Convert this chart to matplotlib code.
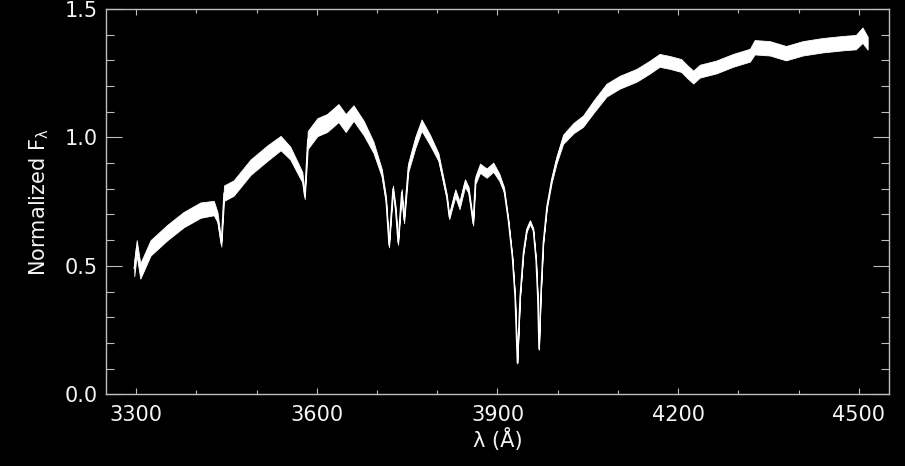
import numpy as np
import matplotlib
matplotlib.use("Agg")
import matplotlib.pyplot as plt
from matplotlib.ticker import MultipleLocator

# Spectrum: wavelength (Angstrom) and normalized flux
wave = [3297, 3301, 3307, 3324, 3352, 3379, 3407, 3429, 3435, 3441.5, 3446,
        3462, 3490, 3518, 3540, 3556, 3570, 3576, 3580, 3585, 3601, 3617,
        3636, 3648, 3661, 3678, 3694, 3708, 3715, 3720, 3726.5, 3731, 3735,
        3741, 3745, 3752, 3763.5, 3774, 3788, 3802, 3810, 3816, 3820, 3824,
        3830, 3837, 3846, 3852, 3856, 3859.6, 3863.4, 3871, 3882, 3893, 3903,
        3911, 3918, 3924.7, 3929.2, 3933, 3937.5, 3943, 3948.6, 3954, 3959.5,
        3964, 3966.8, 3968.9, 3971.8, 3976, 3982, 3990, 3998, 4009, 4026,
        4042, 4059, 4081, 4103, 4131, 4153, 4169, 4186, 4205, 4216, 4225,
        4236, 4263, 4291, 4319, 4327, 4352, 4379, 4407, 4440, 4473, 4495,
        4506, 4514.6]
flux = [0.49, 0.57, 0.48, 0.57, 0.63, 0.68, 0.717, 0.725, 0.69, 0.585, 0.783,
        0.803, 0.884, 0.939, 0.978, 0.939, 0.873, 0.845, 0.77, 0.99, 1.04, 1.056,
        1.095, 1.056, 1.095, 1.036, 0.962, 0.861, 0.756, 0.58, 0.80, 0.717, 0.59,
        0.787, 0.678, 0.884, 0.98, 1.048, 0.99, 0.923, 0.834, 0.767, 0.69, 0.73,
        0.783, 0.736, 0.822, 0.795, 0.729, 0.665, 0.834, 0.88, 0.861, 0.884, 0.845,
        0.795, 0.678, 0.534, 0.379, 0.122, 0.379, 0.55, 0.64, 0.67, 0.64,
        0.523, 0.379, 0.176, 0.379, 0.589, 0.729, 0.834, 0.912, 0.993, 1.036,
        1.063, 1.118, 1.184, 1.215, 1.242, 1.274, 1.30, 1.292, 1.28, 1.254, 1.235,
        1.258, 1.274, 1.30, 1.32, 1.351, 1.347, 1.328, 1.347, 1.359, 1.367, 1.371,
        1.398, 1.367]
# half-width of the noise band around the spectrum
noise = [0.03, 0.03, 0.03, 0.03, 0.03, 0.03, 0.03, 0.028, 0.02, 0.01, 0.03,
         0.03, 0.03, 0.03, 0.028, 0.025, 0.022, 0.02, 0.01, 0.035, 0.035, 0.035,
         0.035, 0.035, 0.03, 0.028, 0.022, 0.015, 0.012, 0.008, 0.012, 0.012, 0.008,
         0.012, 0.012, 0.018, 0.022, 0.022, 0.02, 0.015, 0.012, 0.01, 0.008, 0.012,
         0.015, 0.015, 0.015, 0.012, 0.01, 0.008, 0.015, 0.018, 0.018, 0.018, 0.014,
         0.01, 0.006, 0.004, 0.003, 0.002, 0.003, 0.004, 0.006, 0.008, 0.006,
         0.004, 0.003, 0.002, 0.003, 0.004, 0.006, 0.01, 0.014, 0.018, 0.02,
         0.022, 0.024, 0.025, 0.025, 0.025, 0.025, 0.025, 0.025, 0.025, 0.025, 0.025,
         0.025, 0.025, 0.025, 0.025, 0.028, 0.028, 0.028, 0.028, 0.028, 0.028, 0.028,
         0.03, 0.025]

xticks = [3300, 3600, 3900, 4200, 4500]
yticks = [0.0, 0.5, 1.0, 1.5]

fg = "#f4f4f4"
spine_c = "#bdbdbd"

fig = plt.figure(figsize=(9.05, 4.66), dpi=100, facecolor="black")
ax = fig.add_axes([0.1171, 0.1539, 0.8652, 0.8268], facecolor="black")

w = np.array(wave)
f = np.array(flux)
n = np.array(noise)
ax.fill_between(w, f - n, f + n, color="white", linewidth=0.6, edgecolor="white")
ax.plot(w, f, color="white", linewidth=1.0)

ax.set_xlim(3250, 4550)
ax.set_ylim(0, 1.5)
ax.set_xticks(xticks)
ax.set_yticks(yticks)
ax.set_yticklabels([f"{v:.1f}" for v in yticks])
ax.xaxis.set_minor_locator(MultipleLocator(100))
ax.yaxis.set_minor_locator(MultipleLocator(0.1))

for s in ax.spines.values():
    s.set_color(spine_c)
    s.set_linewidth(1.0)

ax.tick_params(axis="both", which="both", direction="in", top=True, right=True,
               colors=spine_c, labelcolor=fg, labelsize=15, width=0.8)
ax.tick_params(axis="x", which="major", length=4.5, pad=8)
ax.tick_params(axis="x", which="minor", length=3)
ax.tick_params(axis="y", which="major", length=11.5, pad=6)
ax.tick_params(axis="y", which="minor", length=5.8)

ax.set_xlabel("λ (Å)", color=fg, fontsize=15, labelpad=2)
ax.set_ylabel("Normalized F$_{\\mathregular{λ}}$", color=fg, fontsize=15,
              labelpad=10)

fig.savefig("out.png", dpi=100, facecolor="black")
